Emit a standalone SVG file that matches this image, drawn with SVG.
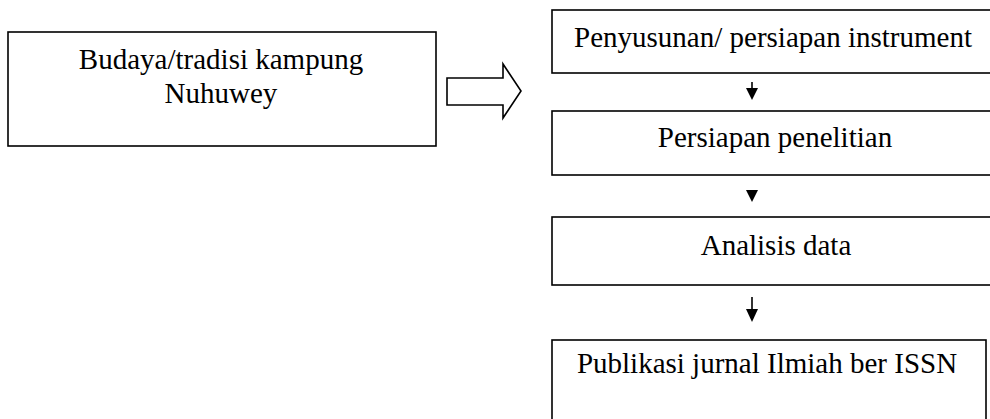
<svg xmlns="http://www.w3.org/2000/svg" width="990" height="419" viewBox="0 0 990 419">
<defs>
<style>
.box{fill:#fff;stroke:#000;stroke-width:1.6}
.t{font-family:"Liberation Serif","Times New Roman",serif;font-size:29px;fill:#000;text-anchor:middle}
.ln{stroke:#000;stroke-width:1.6;fill:none}
.hd{fill:#000;stroke:none}
</style>
</defs>
<rect width="990" height="419" fill="#fff"/>
<g id="n1">
<rect class="box" x="8" y="32" width="428" height="114"/>
<text class="t" x="221" y="69">Budaya/tradisi kampung</text>
<text class="t" x="221" y="103">Nuhuwey</text>
</g>
<g id="n2">
<rect class="box" x="552" y="10" width="450" height="63"/>
<text class="t" x="773" y="47">Penyusunan/ persiapan instrument</text>
</g>
<g id="n3">
<rect class="box" x="552" y="111" width="450" height="64"/>
<text class="t" x="775" y="147">Persiapan penelitian</text>
</g>
<g id="n4">
<rect class="box" x="552" y="217" width="450" height="68"/>
<text class="t" x="776" y="255">Analisis data</text>
</g>
<g id="n5">
<rect class="box" x="552" y="340" width="434" height="90"/>
<text class="t" x="767" y="373">Publikasi jurnal Ilmiah ber ISSN</text>
</g>
<g id="connectors">
<path class="ln" d="M447,78 L503,78 L503,64 L521,91 L503,118 L503,105 L447,105 Z" fill="#fff"/>
<path class="ln" d="M752,82 L752,89"/>
<path class="hd" d="M746,88 L758,88 L752,100 Z"/>
<path class="hd" d="M746,190 L758,190 L752,202 Z"/>
<path class="ln" d="M752,297 L752,310"/>
<path class="hd" d="M746,309 L758,309 L752,322 Z"/>
</g>
</svg>
